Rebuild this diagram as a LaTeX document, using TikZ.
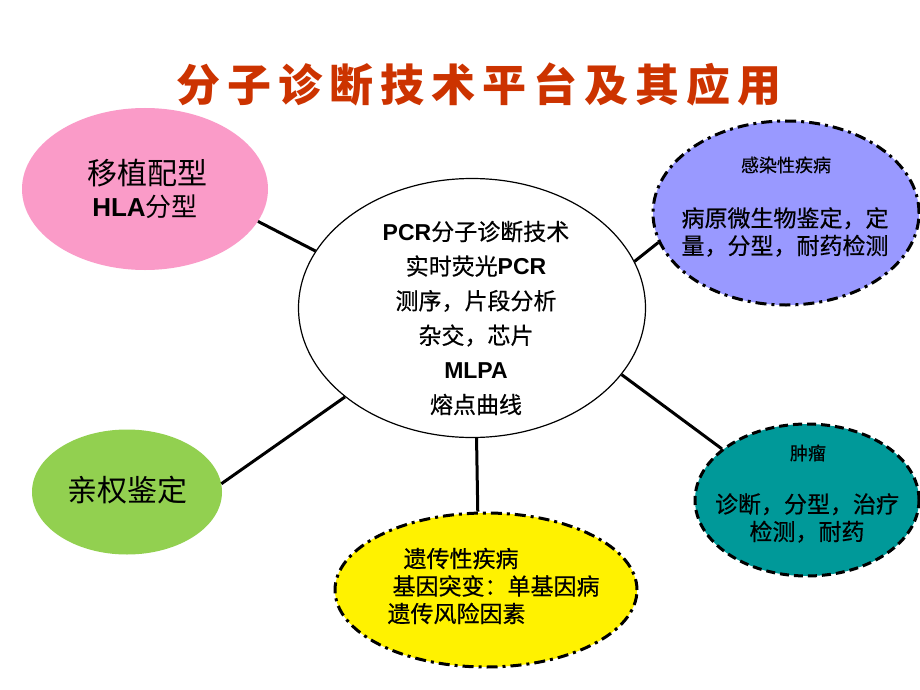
\documentclass[tikz,border=0pt]{standalone}
\usepackage{fontspec}
\setmainfont{Noto Sans CJK SC}
\newfontfamily\heifont{Noto Sans CJK SC}[FakeBold=0.5]
\newfontfamily\arialfont{Liberation Sans}
\newcommand{\lat}[1]{{\arialfont\bfseries #1}}
\usetikzlibrary{shapes.geometric}
\definecolor{titlered}{RGB}{204,51,0}
\definecolor{pinkfill}{RGB}{250,155,200}
\definecolor{lavfill}{RGB}{153,153,255}
\definecolor{tealfill}{RGB}{0,153,153}
\definecolor{greenfill}{RGB}{146,208,80}
\tikzset{
  bubble/.style={ellipse, inner sep=0pt},
  link/.style={line width=3pt},
  dashdot/.style={line width=3pt, dash pattern=on 11pt off 5pt on 3pt off 5pt},
  dashline/.style={line width=3pt, dash pattern=on 9pt off 5pt},
  big/.style={font=\fontsize{30}{36}\selectfont},
  mid/.style={font=\fontsize{23}{27.5}\selectfont\heifont},
  small/.style={font=\fontsize{18}{22}\selectfont\heifont},
}
\begin{document}
\begin{tikzpicture}[x=1pt,y=-1pt]
        \useasboundingbox[fill=white] (0,0) rectangle (920,690);

        %%%%%%%% Titolo %%%%%%%%
        \node[text=titlered, font=\fontsize{44}{50}\bfseries\addfontfeature{LetterSpace=16}] (title) at (479,84) {分子诊断技术平台及其应用};

        %%%%%%%% Ellissi %%%%%%%%
        \node[bubble, fill=pinkfill, minimum width=246pt, minimum height=162pt] (hla) at (145,189) {};
        \node[bubble, draw=black, line width=1.2pt, fill=white, minimum width=347pt, minimum height=259pt] (ctr) at (472,308) {};
        \node[bubble, dashdot, draw=black, fill=lavfill, minimum width=266pt, minimum height=184pt] (inf) at (786,213) {};
        \node[bubble, dashline, draw=black, fill=tealfill, minimum width=224pt, minimum height=152pt] (tum) at (807,500) {};
        \node[bubble, dashdot, draw=black, fill=yellow, minimum width=302pt, minimum height=154pt] (gen) at (486,590) {};
        \node[bubble, fill=greenfill, minimum width=190pt, minimum height=125pt] (pat) at (127,492) {};

        %%%%%%%% Collegamenti %%%%%%%%
        \draw[link] (hla.-16) -- (ctr.160);
        \draw[link] (ctr.16) -- (inf.193);
        \draw[link] (ctr.-24) -- (tum.149);
        \draw[link] (ctr.272) -- (gen.96);
        \draw[link] (ctr.215) -- (pat.5);

        %%%%%%%% Testi %%%%%%%%
        \node[align=center, font=\fontsize{23}{34.6}\selectfont\heifont] (ctrtxt) at (476,318)
          {\lat{PCR}分子诊断技术\\ 实时荧光\lat{PCR}\\ 测序，片段分析\\ 杂交，芯片\\ \lat{MLPA}\\ 熔点曲线};
        \node[big] (hlatop) at (147,173) {移植配型};
        \node[font=\fontsize{26}{30}\selectfont] (hlabot) at (145,207) {\lat{HLA}分型};
        \node[big] (pattxt) at (127,490) {亲权鉴定};
        \node[small] (inftop) at (786,165) {感染性疾病};
        \node[mid, align=center] (infbot) at (785,232) {病原微生物鉴定，定\\ 量，分型，耐药检测};
        \node[small] (tumtop) at (808,453) {肿瘤};
        \node[mid, align=center] (tumbot) at (807,518) {诊断，分型，治疗\\ 检测，耐药};
        \node[mid, align=left, anchor=west] (gentxt) at (384,586)
          {\hspace*{16pt}遗传性疾病\\ \hspace*{5pt}基因突变：单基因病\\ 遗传风险因素};
\end{tikzpicture}
\end{document}
